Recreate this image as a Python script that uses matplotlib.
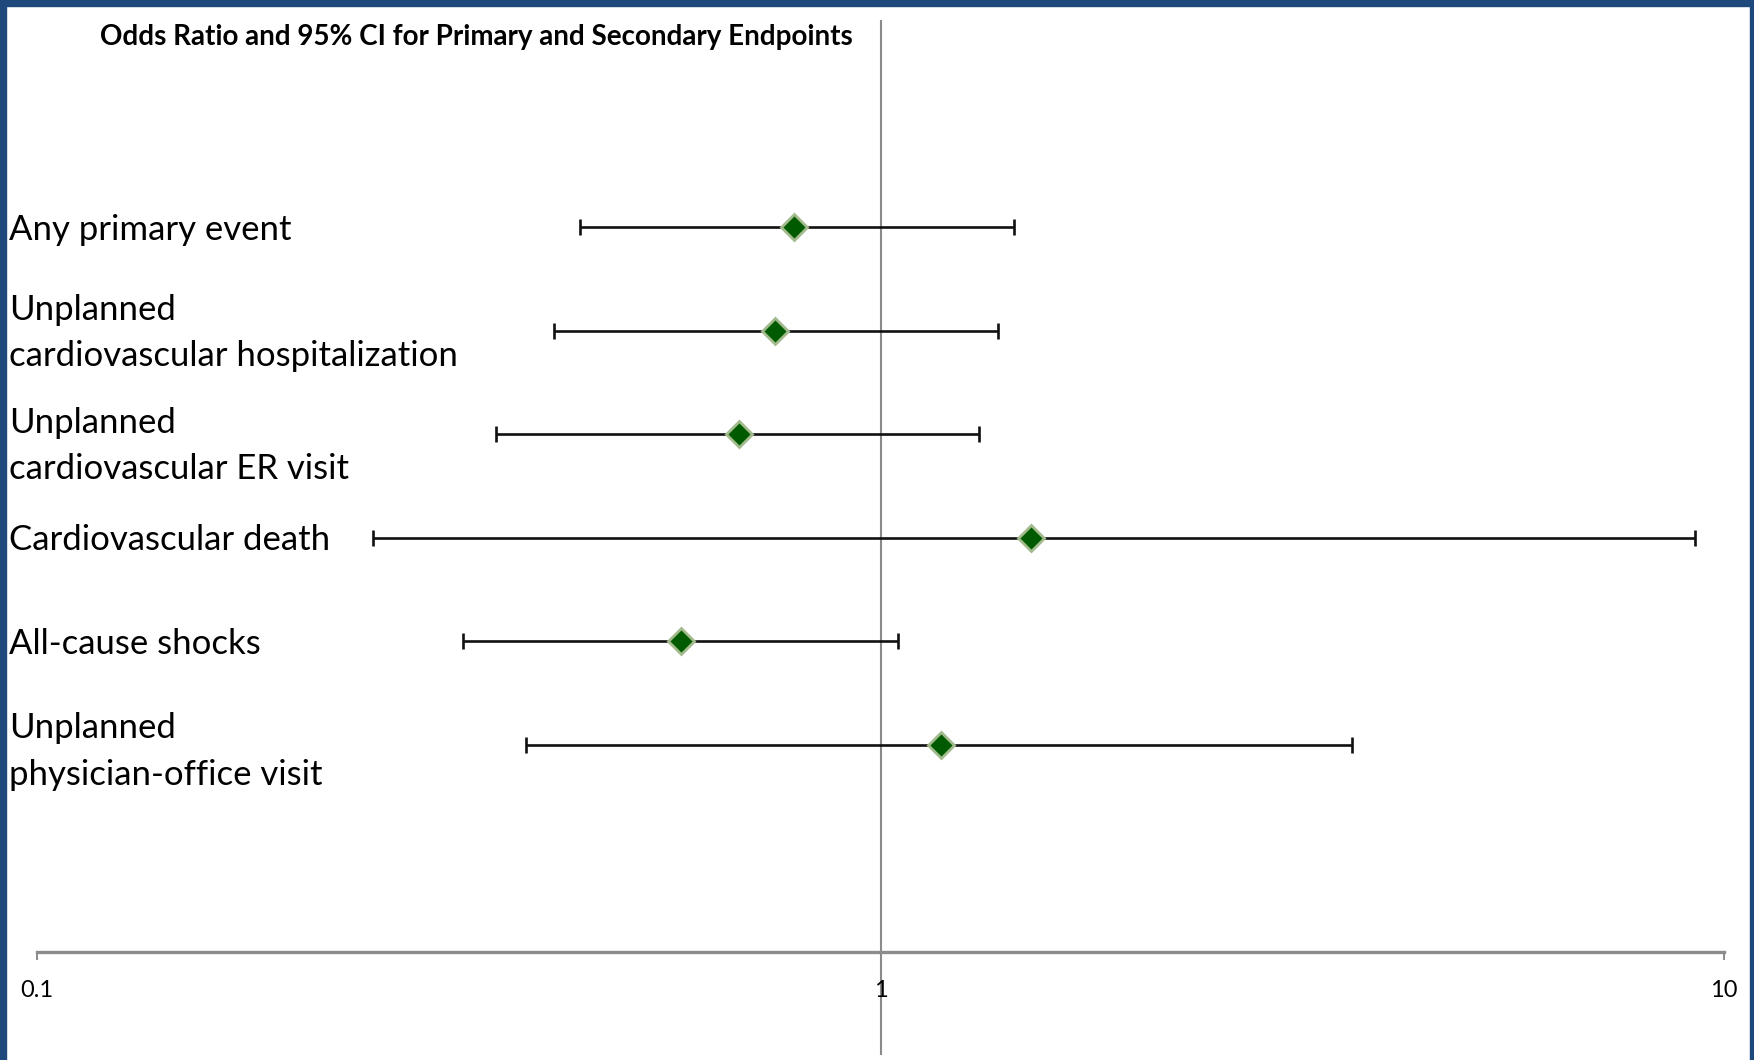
import matplotlib
matplotlib.use('Agg')
import matplotlib.pyplot as plt
from matplotlib.patches import Rectangle

labels = [
    'Any primary event',
    'Unplanned\ncardiovascular hospitalization',
    'Unplanned\ncardiovascular ER visit',
    'Cardiovascular death',
    'All-cause shocks',
    'Unplanned\nphysician-office visit',
]
odds_ratio = [0.79, 0.75, 0.68, 1.51, 0.58, 1.18]
ci_low = [0.44, 0.41, 0.35, 0.25, 0.32, 0.38]
ci_high = [1.44, 1.38, 1.31, 9.24, 1.05, 3.62]
rows = [7, 6, 5, 4, 3, 2]

plt.rcParams['font.family'] = ['Lato', 'DejaVu Sans']

fig = plt.figure(figsize=(17.54, 10.60), dpi=100)
ax = fig.add_axes([37 / 1754, 5 / 1060, (1724 - 37) / 1754, (1055 - 20) / 1060])

ax.set_xscale('log')
ax.set_xlim(0.1, 10)
ax.set_ylim(-1, 9)

# reference line at 1 (the y axis crossing)
ax.axvline(1, color='#8a8a8a', lw=1.5, zorder=1)

err_lo = [o - l for o, l in zip(odds_ratio, ci_low)]
err_hi = [h - o for o, h in zip(odds_ratio, ci_high)]
ax.errorbar(odds_ratio, rows, xerr=[err_lo, err_hi], fmt='none',
            ecolor='#111111', elinewidth=1.9, capsize=6, capthick=1.9, zorder=2)
ax.plot(odds_ratio, rows, linestyle='none', marker='D', markersize=13,
        markerfacecolor='#005a00', markeredgecolor='#a3bb8c', markeredgewidth=2.0,
        zorder=3)

for spine in ['top', 'right', 'left']:
    ax.spines[spine].set_visible(False)
ax.spines['bottom'].set_position(('data', 0))
ax.spines['bottom'].set_color('#8c8c8c')
ax.spines['bottom'].set_linewidth(2.4)

ax.set_xticks([0.1, 1, 10])
ax.set_xticklabels(['0.1', '1', '10'])
ax.xaxis.set_minor_locator(matplotlib.ticker.NullLocator())
ax.tick_params(axis='x', direction='out', length=6, width=1.4, color='#8c8c8c',
               labelsize=17, pad=14.5)
ax.set_yticks([])

# small vertical nudges (pixels) so the text boxes sit like the original
nudge = [-2.5, -2.5, -12, -2.5, -2.5, -7]
for lab, r, dy in zip(labels, rows, nudge):
    ax.annotate(lab, xy=(0, r), xycoords=('figure fraction', 'data'),
                xytext=(9, dy), textcoords='offset pixels',
                fontsize=25, va='center', ha='left', linespacing=1.55,
                annotation_clip=False)

fig.text(100 / 1754, 1 - 37 / 1060, 'Odds Ratio and 95% CI for Primary and Secondary Endpoints',
         fontsize=20, fontweight='bold', va='center', ha='left')

# blue frame
blue = '#1f497d'
fig.patches.append(Rectangle((0, 1 - 6 / 1060), 1, 6 / 1060, transform=fig.transFigure,
                             color=blue, zorder=10))
fig.patches.append(Rectangle((0, 0), 6 / 1754, 1, transform=fig.transFigure,
                             color=blue, zorder=10))
fig.patches.append(Rectangle((1 - 4 / 1754, 0), 4 / 1754, 1, transform=fig.transFigure,
                             color=blue, zorder=10))

fig.savefig('out.png', dpi=100)
